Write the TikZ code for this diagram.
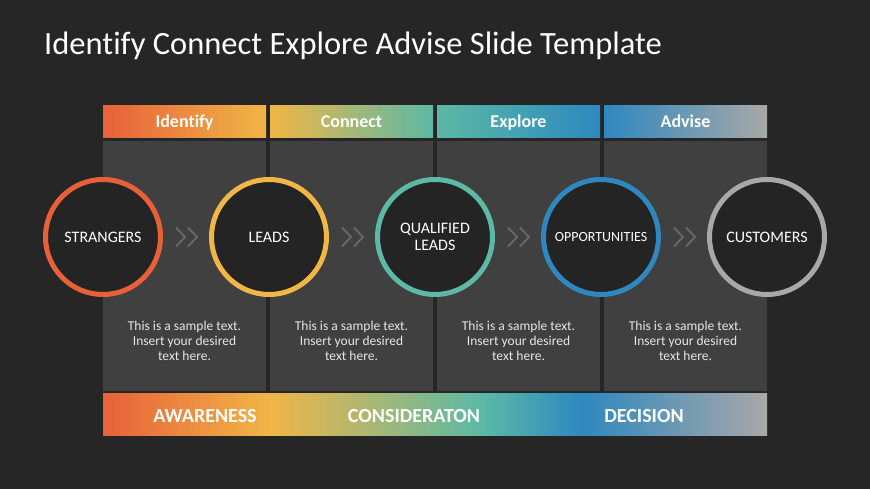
\documentclass[tikz,border=0pt]{standalone}
\usepackage{fontspec}
\setmainfont{Carlito}[Ligatures={NoCommon}]
\usetikzlibrary{calc}
\definecolor{bg}{HTML}{262626}
\definecolor{panel}{HTML}{404040}
\definecolor{cfill}{HTML}{242424}
\definecolor{cOr}{HTML}{E8603A}
\definecolor{cYe}{HTML}{F0B646}
\definecolor{cTe}{HTML}{5BB9A6}
\definecolor{cBl}{HTML}{2E88BF}
\definecolor{cGr}{HTML}{A8A8A8}
\definecolor{chevc}{HTML}{6A6A6A}
\definecolor{bodyc}{HTML}{E6E6E6}
\pgfdeclarehorizontalshading{bottombar}{100bp}{color(0bp)=(cOr); color(25bp)=(cOr); color(37.6bp)=(cYe); color(53.6bp)=(cTe); color(61bp)=(cBl); color(75bp)=(cGr); color(100bp)=(cGr)}
\tikzset{
  hdr/.style={anchor=base, text=white, font=\fontsize{18}{20}\selectfont\bfseries, inner sep=0pt},
  foot/.style={anchor=base, text=white, font=\fontsize{20}{22}\selectfont\bfseries, inner sep=0pt},
  body/.style={anchor=base, text=bodyc, align=center, font=\fontsize{13.5}{15}\selectfont, inner sep=0pt},
  stage/.style={circle, minimum size=115pt, inner sep=0pt, line width=5pt, fill=cfill, text=white, align=center, font=\fontsize{16}{17}\selectfont},
  chev/.style={draw=chevc, line width=1.8pt}
}
\begin{document}
\begin{tikzpicture}[x=1pt,y=-1pt]
\fill[bg] (0,0) rectangle (870,489);
\useasboundingbox (0,0) rectangle (870,489);
\node[anchor=base west, text=white, font=\fontsize{32.5}{36}\selectfont, inner sep=0pt] (title) at (44,55) {Identify Connect Explore Advise Slide Template};
\foreach \i/\lab/\ca/\cb in {0/Identify/cOr/cYe, 1/Connect/cYe/cTe, 2/Explore/cTe/cBl, 3/Advise/cBl/cGr} {
  \pgfmathsetmacro{\xa}{103+167*\i}
  \pgfmathsetmacro{\xb}{\xa+163}
  \pgfmathsetmacro{\xm}{\xa+81.5}
  \shade[left color=\ca, right color=\cb] (\xa,106) rectangle (\xb,137.5);
  \fill[panel] (\xa,141.5) rectangle (\xb,390.5);
  \node[hdr] (h\i) at (\xm,128) {\lab};
  \node[body] (t\i) at (\xm,360) {This is a sample text.\\Insert your desired\\text here.};
}
\shade[shading=bottombar] (103,393) rectangle (767,435.5);
\node[foot] (aw) at (205,422) {AWARENESS};
\node[foot] (co) at (414,422) {CONSIDERATON};
\node[foot] (de) at (644,422) {DECISION};
\node[stage, draw=cOr] (c1) at (103,237) {STRANGERS};
\node[stage, draw=cYe] (c2) at (269,237) {LEADS};
\node[stage, draw=cTe] (c3) at (435,237) {QUALIFIED\\LEADS};
\node[stage, draw=cBl, font=\fontsize{14}{15}\selectfont] (c4) at (601,237) {OPPORTUNITIES};
\node[stage, draw=cGr] (c5) at (767,237) {CUSTOMERS};
\foreach \a/\b in {c1/c2,c2/c3,c3/c4,c4/c5} {
  \coordinate (m-\a) at ($(\a)!0.5!(\b)$);
  \draw[chev] ($(m-\a)+(-10,-9.5)$) -- ++(9,9.5) -- ++(-9,9.5);
  \draw[chev] ($(m-\a)+(2,-9.5)$) -- ++(9,9.5) -- ++(-9,9.5);
}
\end{tikzpicture}
\end{document}
